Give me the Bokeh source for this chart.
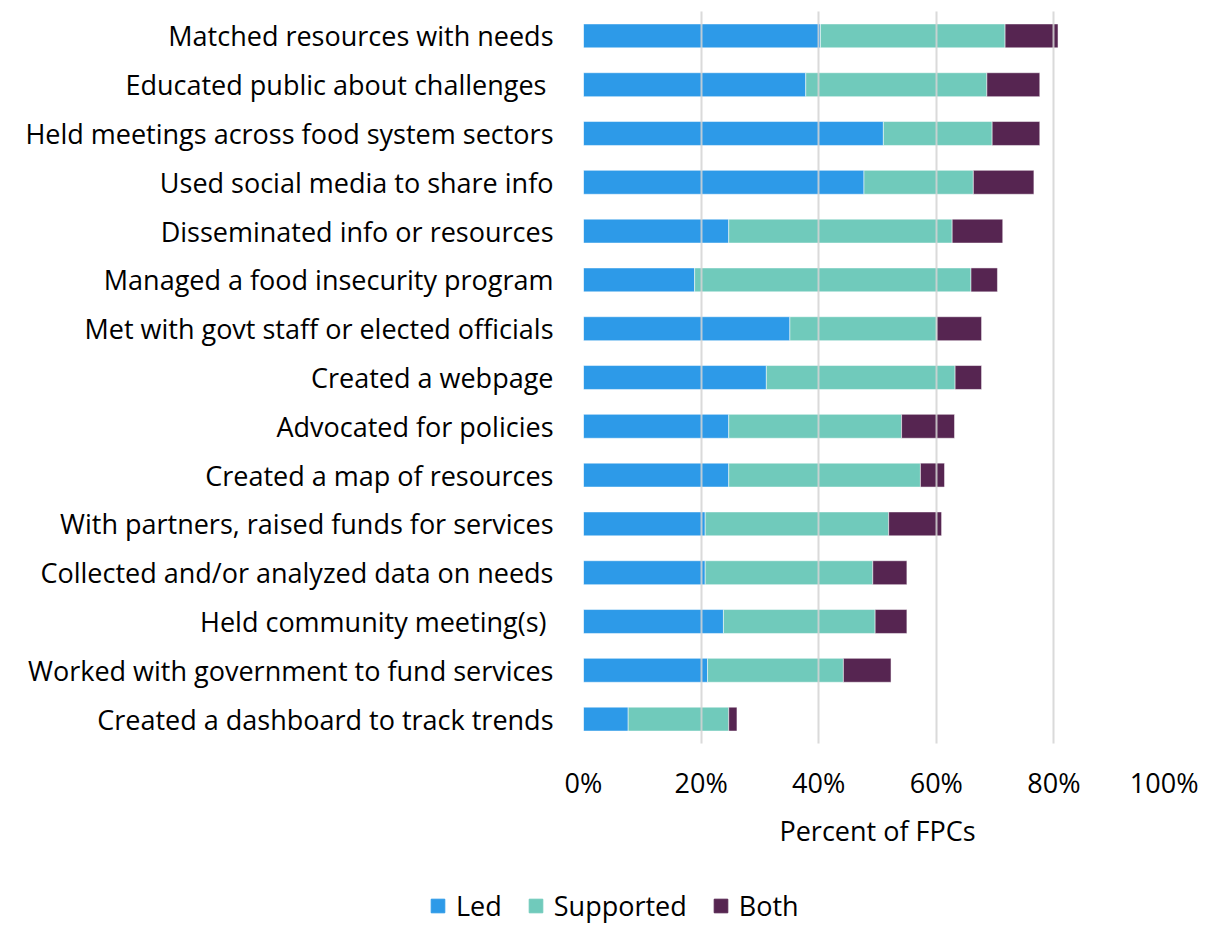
from bokeh.plotting import figure
from bokeh.models import (ColumnDataSource, FactorRange, Range1d, FixedTicker,
                          PrintfTickFormatter, Legend, LegendItem)
from bokeh.embed import file_html
from bokeh.resources import INLINE

# ---- data (percent of FPCs), listed top to bottom ----
activities = [
    "Matched resources with needs",
    "Educated public about challenges ",
    "Held meetings across food system sectors",
    "Used social media to share info",
    "Disseminated info or resources",
    "Managed a food insecurity program",
    "Met with govt staff or elected officials",
    "Created a webpage",
    "Advocated for policies",
    "Created a map of resources",
    "With partners, raised funds for services",
    "Collected and/or analyzed data on needs",
    "Held community meeting(s) ",
    "Worked with government to fund services",
    "Created a dashboard to track trends",
]
led = [40.3, 37.8, 51.0, 47.7, 24.7, 18.9, 35.1, 31.1, 24.7, 24.7, 20.7, 20.7, 23.8, 21.1, 7.6]
supported = [31.4, 30.8, 18.5, 18.6, 38.0, 47.0, 25.0, 32.1, 29.4, 32.6, 31.2, 28.5, 25.8, 23.1, 17.1]
both = [9.0, 9.0, 8.1, 10.3, 8.6, 4.5, 7.6, 4.5, 9.0, 4.1, 9.0, 5.8, 5.4, 8.1, 1.4]
series = ["Led", "Supported", "Both"]
colors = ["#2D9AE8", "#70CABB", "#562551"]
x_ticks = [0, 20, 40, 60, 80, 100]

source = ColumnDataSource(dict(cat=activities, Led=led, Supported=supported, Both=both))

FONT = "Open Sans"
FS = "27px"

# ---- main chart ----
p = figure(
    width=1198, height=858,
    y_range=FactorRange(*activities[::-1], range_padding=0),
    x_range=Range1d(0, 100),
    output_backend="svg", toolbar_location=None,
    min_border_left=583, min_border_right=27, min_border_top=11, min_border_bottom=115,
)
p.outline_line_color = None
p.background_fill_color = "white"
p.border_fill_color = "white"

p.hbar_stack(series, y="cat", height=0.49, color=colors, source=source,
             line_color="white", line_width=1, line_alpha=0.5)

p.ygrid.grid_line_color = None
p.xgrid.grid_line_color = "#d4d4d4"
p.xgrid.grid_line_width = 2
p.xgrid.grid_line_alpha = 0.85
p.xgrid.level = "overlay"

p.xaxis.ticker = FixedTicker(ticks=x_ticks)
p.xaxis.formatter = PrintfTickFormatter(format="%d%%")
p.xaxis.axis_line_color = None
p.xaxis.major_tick_line_color = None
p.xaxis.minor_tick_line_color = None
p.xaxis.major_tick_out = 0
p.xaxis.major_label_standoff = 20
p.xaxis.major_label_text_font = FONT
p.xaxis.major_label_text_font_size = FS
p.xaxis.major_label_text_color = "black"
p.xaxis.axis_label = "Percent of FPCs"
p.xaxis.axis_label_standoff = 8
p.xaxis.axis_label_text_font = FONT
p.xaxis.axis_label_text_font_size = FS
p.xaxis.axis_label_text_font_style = "normal"
p.xaxis.axis_label_text_color = "black"

p.yaxis.axis_line_color = None
p.yaxis.major_tick_line_color = None
p.yaxis.minor_tick_line_color = None
p.yaxis.major_tick_out = 0
p.yaxis.major_label_standoff = 30
p.yaxis.major_label_text_font = FONT
p.yaxis.major_label_text_font_size = FS
p.yaxis.major_label_text_color = "black"

# ---- legend strip (same series, hidden bars, only the legend shows) ----
pl = figure(
    width=1198, height=66,
    y_range=FactorRange(*activities[::-1]), x_range=Range1d(0, 100),
    x_axis_location=None, y_axis_location=None,
    output_backend="svg", toolbar_location=None,
    min_border_left=0, min_border_right=0, min_border_top=0, min_border_bottom=0,
)
pl.outline_line_color = None
pl.grid.visible = False
leg_renderers = pl.hbar_stack(series, y="cat", height=0.49, color=colors, source=source)
for r in leg_renderers:
    r.visible = False

legend = Legend(
    items=[LegendItem(label=s, renderers=[r]) for s, r in zip(series, leg_renderers)],
    orientation="horizontal",
    location=(429, 0),
    border_line_color=None,
    background_fill_alpha=0,
    inactive_fill_alpha=0,
    padding=0, margin=0,
    spacing=25,
    label_standoff=10,
    glyph_width=17, glyph_height=17,
    label_text_font=FONT,
    label_text_font_size=FS,
    label_text_color="black",
)
pl.add_layout(legend, "center")

open("out.html", "w").write(file_html([p, pl], INLINE))
